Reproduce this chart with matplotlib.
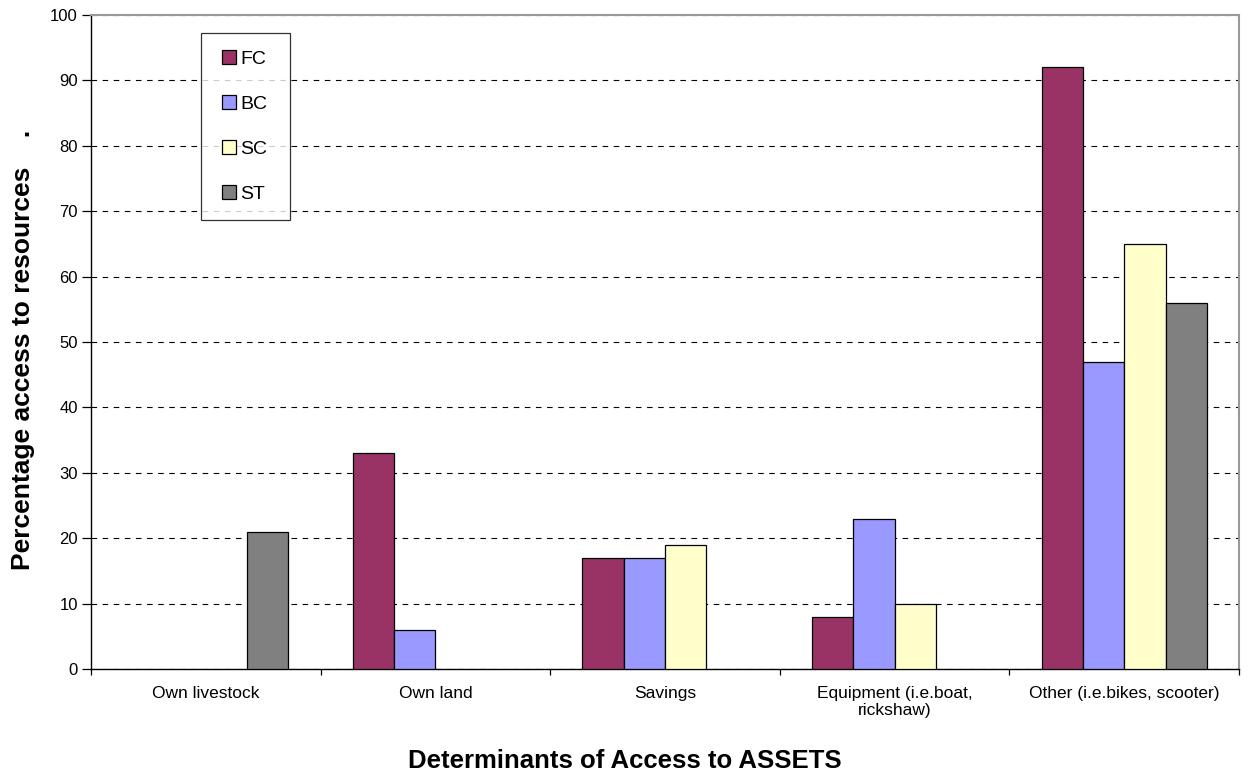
import numpy as np
import matplotlib
matplotlib.use("Agg")
import matplotlib.pyplot as plt
from matplotlib.ticker import FixedLocator
from matplotlib.lines import Line2D

plt.rcParams['font.family'] = ['Liberation Sans', 'DejaVu Sans']

categories = ["Own livestock", "Own land", "Savings",
              "Equipment (i.e.boat,\nrickshaw)", "Other (i.e.bikes, scooter)"]
series_names = ["FC", "BC", "SC", "ST"]
fc = [0, 33, 17, 8, 92]
bc = [0, 6, 17, 23, 47]
sc = [0, 0, 19, 10, 65]
st = [21, 0, 0, 0, 56]
series_values = [fc, bc, sc, st]
colors = ["#993366", "#9999FF", "#FFFFCC", "#808080"]
y_ticks = list(range(0, 101, 10))

W, H = 1248, 776
L, R, T, B = 91, 1239, 15, 669
fig = plt.figure(figsize=(W / 100, H / 100), dpi=100)
ax = fig.add_axes([L / W, 1 - B / H, (R - L) / W, (B - T) / H])

n = len(categories)
x = np.arange(n)
bw = 0.18
for i, (name, vals, col) in enumerate(zip(series_names, series_values, colors)):
    bars = ax.bar(x + (i - 1.5) * bw, vals, width=bw, color=col, edgecolor="black",
                  linewidth=0.9, zorder=3)
    # empty categories carry no bar outline
    for rect, v in zip(bars, vals):
        if v == 0:
            rect.set_visible(False)

ax.set_xlim(-0.5, n - 0.5)
ax.set_ylim(0, 100)
ax.set_yticks(y_ticks)
ax.yaxis.grid(True, linestyle=(0, (5, 5)), color="black", linewidth=0.8, zorder=0)
ax.set_axisbelow(True)

ax.set_xticks(x)
ax.set_xticklabels(categories, fontsize=12.5)
ax.tick_params(axis="x", which="major", length=0, pad=12)
ax.xaxis.set_minor_locator(FixedLocator(np.arange(-0.5, n, 1.0)))
ax.tick_params(axis="x", which="minor", length=4.5, direction="out", width=0.9)
ax.tick_params(axis="y", labelsize=12, length=6.5, pad=3, direction="out", width=0.9)

for side in ("top", "right"):
    ax.spines[side].set_color("#999999")
    ax.spines[side].set_linewidth(1.5)
for side in ("left", "bottom"):
    ax.spines[side].set_color("black")
    ax.spines[side].set_linewidth(1.0)

ax.set_ylabel("Percentage access to resources    .", fontsize=19, fontweight="bold")
ax.yaxis.set_label_coords((35 - L) / (R - L), (B - 350) / (B - T))
ax.set_xlabel("Determinants of Access to ASSETS", fontsize=18.5, fontweight="bold")
ax.xaxis.set_label_coords((625 - L) / (R - L), (B - 749) / (B - T))

# square swatches for the legend
handles = [Line2D([], [], linestyle="none", marker="s", markersize=10.5,
                  markerfacecolor=c, markeredgecolor="black", markeredgewidth=0.9)
           for c in colors]
lx0 = (201 - L) / (R - L)
ltop = (B - 33) / (B - T)
lw = (290 - 201) / (R - L)
leg = ax.legend(handles, series_names, loc="upper left",
                bbox_to_anchor=(lx0, ltop - 0.3, lw, 0.3), mode="expand",
                fontsize=14, frameon=True, fancybox=False, edgecolor="black",
                numpoints=1, handlelength=1.08, handletextpad=0.03,
                labelspacing=1.4, borderpad=0.9, borderaxespad=0)
leg.get_frame().set_linewidth(0.9)

fig.savefig("out.png", dpi=100)
